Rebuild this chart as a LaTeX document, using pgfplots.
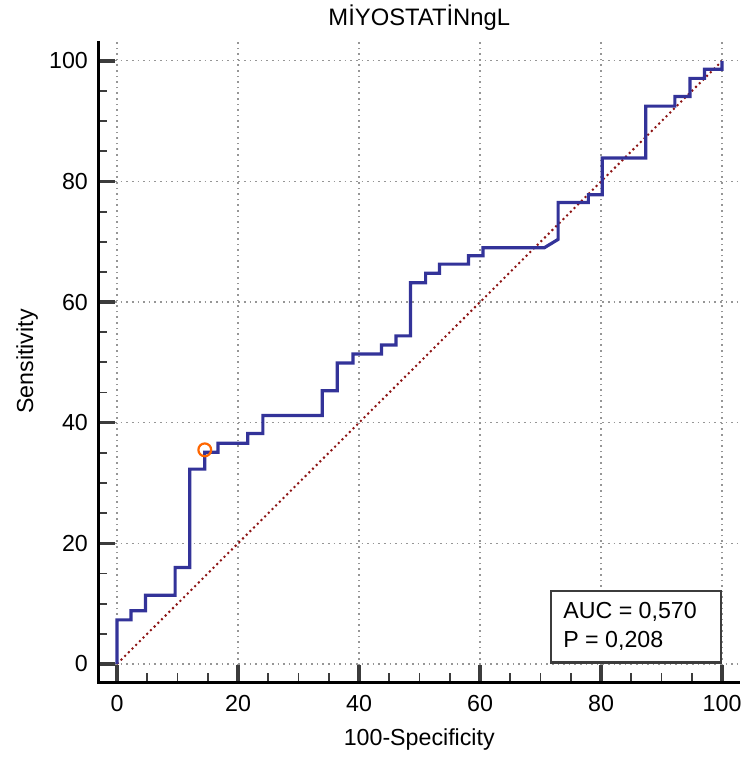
\documentclass[border=0pt]{standalone}
\usepackage{fontspec}
\setmainfont{Liberation Sans}
\usepackage{pgfplots}
\pgfplotsset{compat=1.18}
\definecolor{roc}{RGB}{51,51,153}
\definecolor{diag}{RGB}{140,20,20}
\definecolor{gridc}{RGB}{150,150,150}
\definecolor{tickc}{RGB}{60,60,60}
\definecolor{mk}{RGB}{255,102,0}
\newcommand{\fs}{\fontsize{11.6pt}{14pt}\selectfont}
\begin{document}
\begin{tikzpicture}
\begin{axis}[
  scale only axis,
  width=320.95pt, height=320.5pt,
  xmin=-3.1, xmax=103, ymin=-3, ymax=103.3,
  axis line style={draw=none},
  xtick pos=bottom, ytick pos=left,
  xtick={0,20,40,60,80,100}, ytick={0,20,40,60,80,100},
  minor tick num=3,
  tick align=inside,
  major tick length=8.5pt, minor tick length=4.5pt,
  every major tick/.append style={line width=1.7pt, draw=tickc},
  every minor tick/.append style={line width=0.9pt, draw=tickc},
  grid=major,
  major grid style={gridc, line width=0.6pt, dash pattern=on 0.8pt off 2pt},
  /pgf/number format/assume math mode=true,
  tick label style={font=\fs},
  yticklabel style={inner sep=0pt, anchor=east, xshift=-5pt},
  xticklabel style={inner sep=0pt, anchor=north, yshift=-6.5pt},
  title={MİYOSTATİNngL},
  every axis title/.style={font=\fontsize{11.9pt}{14pt}\selectfont, inner sep=0pt, anchor=base, at={([yshift=7.5pt]axis description cs:0.5,1)}},
  xlabel={100-Specificity},
  every axis x label/.style={font=\fs, inner sep=0pt, anchor=base, at={([yshift=-31.9pt]axis description cs:0.5,0)}},
  ylabel={Sensitivity},
  every axis y label/.style={font=\fs, inner sep=0pt, anchor=base, rotate=90, at={([xshift=-32.6pt]axis description cs:0,0.5)}},
  clip=false,
]
\addplot[diag, line width=1pt, dash pattern=on 1pt off 1.6pt] coordinates {(0,0) (100,100)};
\addplot[roc, line width=1.6pt, line join=miter, mark=none] coordinates {
(0,0) (0,7.3) (2.3,7.3) (2.3,8.8) (4.7,8.8) (4.7,11.4) (9.6,11.4) (9.6,16.0)
(12.0,16.0) (12.0,32.3) (14.5,32.3) (14.5,35.1) (16.7,35.1) (16.7,36.6)
(21.6,36.6) (21.6,38.2) (24.1,38.2) (24.1,41.2) (33.9,41.2) (33.9,45.3)
(36.4,45.3) (36.4,49.9) (39.0,49.9) (39.0,51.4) (43.7,51.4) (43.7,52.9)
(46.1,52.9) (46.1,54.4) (48.5,54.4) (48.5,63.2) (51.0,63.2) (51.0,64.8)
(53.3,64.8) (53.3,66.3) (58.1,66.3) (58.1,67.7) (60.5,67.7) (60.5,69.0)
(70.6,69.0) (72.9,70.4) (72.9,76.5) (77.9,76.5) (77.9,77.8) (80.2,77.8)
(80.2,83.9) (87.4,83.9) (87.4,92.5) (92.2,92.5) (92.2,94.1) (94.7,94.1)
(94.7,97.1) (97.1,97.1) (97.1,98.6) (100,98.6) (100,100)
};
\addplot[only marks, mark=o, mark size=3.2pt, mark options={draw=mk, fill=white, line width=1.1pt}] coordinates {(14.5,35.5)};
\draw[line width=1.3pt, draw=tickc, fill=white] (axis cs:71.7,0.2) rectangle (axis cs:99.8,12.1);
\node[font=\fs, inner sep=0pt, anchor=base west] at (axis cs:73.7,7.6) {AUC = 0,570};
\node[font=\fs, inner sep=0pt, anchor=base west] at (axis cs:73.7,2.7) {P = 0,208};
\draw[line width=1.5pt, black] (rel axis cs:0,1) -- (rel axis cs:0,0) -- (rel axis cs:1,0);
\path ([xshift=-49.15pt, yshift=-38pt]rel axis cs:0,0) rectangle ([xshift=2pt, yshift=20.5pt]rel axis cs:1,1);
\end{axis}
\end{tikzpicture}
\end{document}
